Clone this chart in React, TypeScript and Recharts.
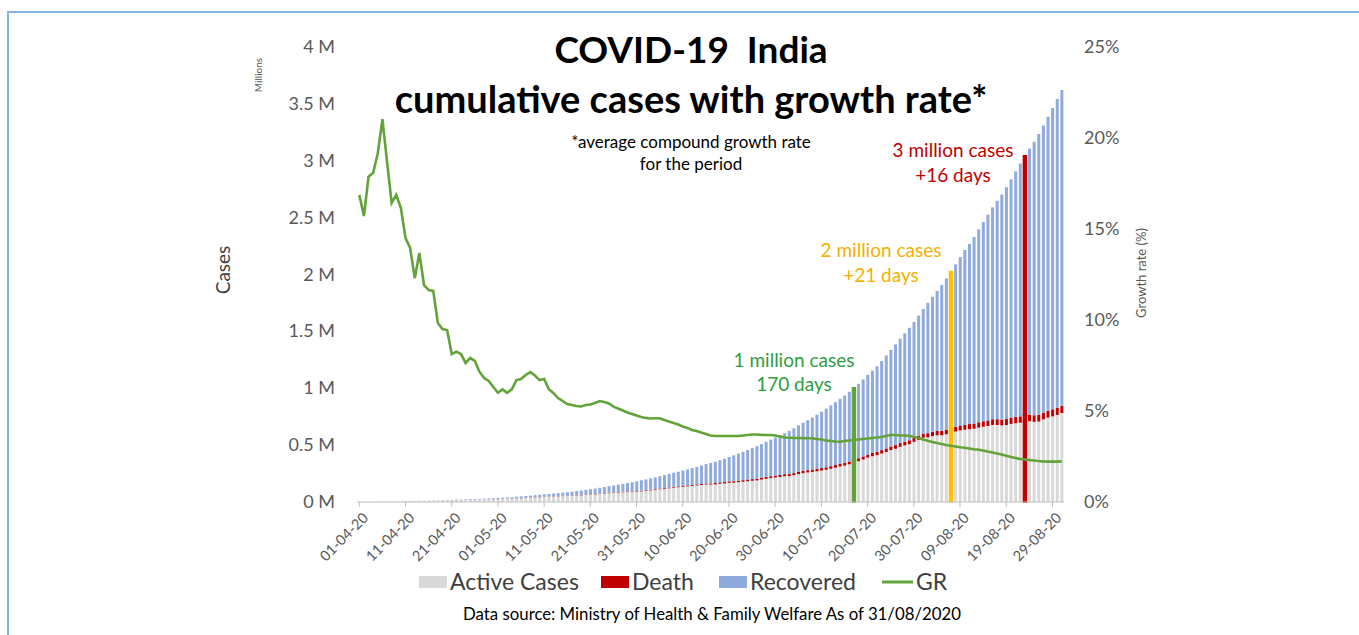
import { ComposedChart, Bar, Line, XAxis, YAxis, Cell } from 'recharts';

// one category per day, 01-04-2020 .. 31-08-2020
const dates = [
  '01-04-20', '02-04-20', '03-04-20', '04-04-20', '05-04-20', '06-04-20', '07-04-20', '08-04-20', '09-04-20', '10-04-20',
  '11-04-20', '12-04-20', '13-04-20', '14-04-20', '15-04-20', '16-04-20', '17-04-20', '18-04-20', '19-04-20', '20-04-20',
  '21-04-20', '22-04-20', '23-04-20', '24-04-20', '25-04-20', '26-04-20', '27-04-20', '28-04-20', '29-04-20', '30-04-20',
  '01-05-20', '02-05-20', '03-05-20', '04-05-20', '05-05-20', '06-05-20', '07-05-20', '08-05-20', '09-05-20', '10-05-20',
  '11-05-20', '12-05-20', '13-05-20', '14-05-20', '15-05-20', '16-05-20', '17-05-20', '18-05-20', '19-05-20', '20-05-20',
  '21-05-20', '22-05-20', '23-05-20', '24-05-20', '25-05-20', '26-05-20', '27-05-20', '28-05-20', '29-05-20', '30-05-20', '31-05-20',
  '01-06-20', '02-06-20', '03-06-20', '04-06-20', '05-06-20', '06-06-20', '07-06-20', '08-06-20', '09-06-20', '10-06-20',
  '11-06-20', '12-06-20', '13-06-20', '14-06-20', '15-06-20', '16-06-20', '17-06-20', '18-06-20', '19-06-20', '20-06-20',
  '21-06-20', '22-06-20', '23-06-20', '24-06-20', '25-06-20', '26-06-20', '27-06-20', '28-06-20', '29-06-20', '30-06-20',
  '01-07-20', '02-07-20', '03-07-20', '04-07-20', '05-07-20', '06-07-20', '07-07-20', '08-07-20', '09-07-20', '10-07-20',
  '11-07-20', '12-07-20', '13-07-20', '14-07-20', '15-07-20', '16-07-20', '17-07-20', '18-07-20', '19-07-20', '20-07-20',
  '21-07-20', '22-07-20', '23-07-20', '24-07-20', '25-07-20', '26-07-20', '27-07-20', '28-07-20', '29-07-20', '30-07-20', '31-07-20',
  '01-08-20', '02-08-20', '03-08-20', '04-08-20', '05-08-20', '06-08-20', '07-08-20', '08-08-20', '09-08-20', '10-08-20',
  '11-08-20', '12-08-20', '13-08-20', '14-08-20', '15-08-20', '16-08-20', '17-08-20', '18-08-20', '19-08-20', '20-08-20',
  '21-08-20', '22-08-20', '23-08-20', '24-08-20', '25-08-20', '26-08-20', '27-08-20', '28-08-20', '29-08-20', '30-08-20', '31-08-20',
];

// thousands of cases
const activeCases = [
  1.4, 1.9, 2.3, 2.7, 3.2, 3.7, 4.3, 4.6, 5.1, 5.7, 6.5, 7.4, 7.9, 8.9, 9.7, 10.5, 11.3, 11.9, 13.0, 14.2,
  14.8, 15.5, 16.4, 17.7, 18.6, 19.9, 20.9, 21.6, 22.6, 23.7,
  25.0, 26.1, 28.0, 29.4, 32.1, 33.5, 35.8, 37.9, 39.9, 41.4, 44.1, 46.0, 47.5, 49.3, 51.4, 53.0, 53.9, 56.4, 58.7, 61.2,
  63.7, 66.3, 69.6, 73.6, 77.1, 80.7, 83.1, 86.1, 90.0, 86.4, 89.9,
  93.3, 97.6, 101.5, 106.7, 112.0, 116.0, 120.4, 125.9, 129.9, 133.7, 137.5, 141.8, 145.7, 149.3, 153.7, 153.2, 155.3, 160.4, 163.2, 168.3,
  169.5, 174.4, 178.0, 183.0, 186.5, 189.5, 197.3, 203.1, 210.1, 215.1,
  220.2, 226.9, 227.4, 235.4, 244.8, 253.3, 259.6, 265.0, 269.8, 276.7, 283.4, 292.3, 301.6, 311.8, 319.9, 331.2, 342.4, 358.6, 373.4, 390.4,
  402.5, 411.4, 426.1, 440.1, 456.1, 467.8, 485.1, 497.1, 508.5, 529.1, 545.4,
  565.0, 567.7, 579.4, 586.3, 586.3, 595.5, 608.1, 619.1, 628.7, 635.0, 639.9, 643.9, 653.7, 661.6, 668.3, 677.4, 677.0, 673.1, 676.5, 686.3,
  692.1, 697.3, 707.6, 710.8, 704.3, 707.3, 725.9, 742.1, 752.4, 765.3, 781.9,
];

const deaths = [
  0.04, 0.05, 0.06, 0.08, 0.1, 0.11, 0.12, 0.15, 0.17, 0.2, 0.24, 0.27, 0.31, 0.34, 0.38, 0.41, 0.44, 0.48, 0.52, 0.56,
  0.59, 0.64, 0.68, 0.72, 0.78, 0.82, 0.87, 0.93, 1.01, 1.07,
  1.15, 1.22, 1.3, 1.37, 1.57, 1.69, 1.78, 1.89, 1.98, 2.11, 2.21, 2.29, 2.42, 2.55, 2.65, 2.75, 2.87, 3.03, 3.16, 3.3,
  3.44, 3.58, 3.72, 3.87, 4.02, 4.17, 4.34, 4.53, 4.71, 4.97, 5.16,
  5.39, 5.6, 5.82, 6.08, 6.35, 6.64, 6.93, 7.2, 7.47, 7.75, 8.1, 8.5, 8.88, 9.2, 9.52, 9.9, 11.9, 12.24, 12.57, 12.95,
  13.25, 13.7, 14.01, 14.48, 14.89, 15.3, 15.69, 16.1, 16.48, 16.89,
  17.4, 17.8, 18.2, 18.7, 19.3, 19.7, 20.2, 20.6, 21.1, 21.6, 22.1, 22.7, 23.2, 23.7, 24.3, 24.9, 25.6, 26.3, 26.8, 27.5,
  28.1, 28.7, 29.9, 30.6, 31.4, 32.1, 32.8, 33.4, 34.2, 35.0, 35.7,
  36.5, 37.4, 38.1, 38.9, 39.8, 40.7, 41.6, 42.5, 43.4, 44.4, 45.3, 46.1, 47.0, 48.0, 49.0, 50.0, 50.9, 51.8, 52.9, 53.9,
  54.8, 55.8, 56.7, 57.5, 58.4, 59.4, 60.5, 61.5, 62.6, 63.5, 64.5,
];

const recovered = [
  0.13, 0.16, 0.17, 0.21, 0.27, 0.33, 0.35, 0.41, 0.47, 0.5, 0.65, 0.76, 1.0, 1.2, 1.3, 1.5, 1.7, 2.0, 2.2, 2.5,
  3.2, 3.9, 4.3, 4.7, 5.1, 5.8, 6.2, 6.9, 7.7, 8.3,
  8.9, 10.0, 10.6, 11.7, 12.7, 14.2, 15.3, 16.5, 17.8, 19.4, 20.9, 22.5, 24.4, 26.2, 27.9, 30.2, 34.1, 36.8, 39.2, 42.3,
  45.3, 48.5, 51.8, 54.4, 57.7, 60.5, 64.4, 67.7, 71.1, 82.4, 87.0,
  91.8, 95.5, 100.3, 104.1, 108.5, 114.1, 119.3, 124.4, 129.2, 135.2, 141.0, 147.2, 154.3, 162.4, 169.8, 180.0, 186.9, 194.3, 204.7, 213.8,
  227.8, 237.2, 248.2, 258.7, 271.7, 285.6, 295.9, 309.7, 321.7, 334.8,
  347.9, 359.9, 379.9, 394.2, 409.1, 424.4, 439.9, 456.8, 476.4, 495.5, 515.4, 534.6, 553.5, 571.5, 592.0, 612.8, 635.8, 653.8, 677.4, 700.1,
  724.6, 753.0, 782.6, 817.2, 849.4, 885.6, 917.6, 952.7, 989.0, 1019.7, 1057.8,
  1094.4, 1145.6, 1186.2, 1230.5, 1282.2, 1328.3, 1377.4, 1427.0, 1480.9, 1535.7, 1583.5, 1639.6, 1695.9, 1751.6, 1808.9, 1862.3, 1919.8, 1977.8, 2037.9, 2096.7,
  2158.9, 2222.6, 2280.6, 2338.0, 2404.6, 2467.8, 2523.8, 2583.9, 2648.9, 2713.9, 2774.8,
];

// average compound growth rate, %
const growthRate = [
  16.87, 15.71, 17.87, 18.09, 19.16, 21.03, 18.7, 16.43, 16.87, 16.15, 14.5, 13.96, 12.3, 13.68, 11.92, 11.65, 11.6, 9.84, 9.5, 9.45,
  8.13, 8.26, 8.13, 7.64, 7.91, 7.75, 7.16, 6.81, 6.65, 6.32,
  6.0, 6.19, 6.0, 6.19, 6.7, 6.76, 6.98, 7.14, 6.95, 6.7, 6.76, 6.2, 5.99, 5.71, 5.55, 5.38, 5.33, 5.27, 5.25, 5.33,
  5.36, 5.44, 5.55, 5.49, 5.41, 5.24, 5.14, 5.03, 4.92, 4.84, 4.75,
  4.67, 4.62, 4.59, 4.6, 4.6, 4.51, 4.42, 4.34, 4.26, 4.15, 4.07, 3.96, 3.9, 3.82, 3.74, 3.65, 3.63, 3.63, 3.63, 3.63,
  3.63, 3.63, 3.65, 3.68, 3.71, 3.71, 3.69, 3.68, 3.68, 3.65,
  3.6, 3.54, 3.53, 3.52, 3.52, 3.51, 3.5, 3.5, 3.46, 3.43, 3.38, 3.35, 3.32, 3.31, 3.35, 3.38, 3.41, 3.43, 3.46, 3.49,
  3.52, 3.54, 3.57, 3.63, 3.68, 3.68, 3.66, 3.65, 3.64, 3.57, 3.52,
  3.43, 3.36, 3.3, 3.24, 3.19, 3.13, 3.09, 3.05, 3.01, 2.98, 2.94, 2.9, 2.87, 2.83, 2.77, 2.72, 2.67, 2.61, 2.54, 2.47,
  2.42, 2.36, 2.34, 2.31, 2.28, 2.25, 2.23, 2.22, 2.22, 2.22, 2.23,
];

const tickDates = [
  '01-04-20', '11-04-20', '21-04-20', '01-05-20', '11-05-20', '21-05-20', '31-05-20', '10-06-20',
  '20-06-20', '30-06-20', '10-07-20', '20-07-20', '30-07-20', '09-08-20', '19-08-20', '29-08-20',
];
const caseTicks = [0, 500, 1000, 1500, 2000, 2500, 3000, 3500, 4000];
const rateTicks = [0, 5, 10, 15, 20, 25];

const milestoneDates = ['17-07-20', '07-08-20', '23-08-20'];
const milestoneColors = ['#62a33a', '#ffc000', '#c00000'];

const data = dates.map((date, i) => ({
  date,
  active: activeCases[i],
  death: deaths[i],
  recovered: recovered[i],
  gr: growthRate[i],
}));

const FONT = 'Lato, "Open Sans", sans-serif';
const GREEN = '#62a33a';

const cellsFor = (base: string) =>
  data.map((d, i) => {
    const m = milestoneDates.indexOf(d.date);
    const c = m >= 0 ? milestoneColors[m] : base;
    return <Cell key={i} fill={c} stroke={m >= 0 ? c : 'none'} strokeWidth={m >= 0 ? 1.5 : 0} />;
  });

const DateTick = (props: any) => {
  const { x, y, payload } = props;
  return (
    <g transform={`translate(${x},${y})`}>
      <text x={0} y={6} dy={8} textAnchor="end" transform="rotate(-45)" fontSize={14.5} fill="#595959" fontFamily={FONT}>
        {payload.value}
      </text>
    </g>
  );
};

// left tick labels drawn by hand so they sit right-aligned at x = 335
const CaseTick = (props: any) => {
  const { y, payload } = props;
  return (
    <text x={335} y={y} dy={6} textAnchor="end" fontSize={18} fill="#595959" fontFamily={FONT}>
      {`${payload.value / 1000} M`}
    </text>
  );
};

const legendItems = [
  { label: 'Active Cases', color: '#d9d9d9', x: 419, type: 'rect' },
  { label: 'Death', color: '#c00000', x: 601, type: 'rect' },
  { label: 'Recovered', color: '#8faadc', x: 719, type: 'rect' },
  { label: 'GR', color: GREEN, x: 882, type: 'line' },
];

const App = () => {
  return (
    <div style={{ position: 'absolute', left: 0, top: 0, width: 1359, height: 635, background: '#fff', overflow: 'hidden' }}>
      <div
        style={{
          position: 'absolute', left: 7, top: 11, width: 1360, height: 640,
          borderTop: '2px solid #84b4e4', borderLeft: '2px solid #84b4e4',
        }}
      />
      <div style={{ position: 'absolute', left: 0, top: 0 }}>
        <ComposedChart width={1359} height={635} data={data} margin={{ top: 47, right: 215, bottom: 73, left: 277 }} barSize={3}>
          <XAxis
            dataKey="date"
            ticks={tickDates}
            interval={0}
            tick={<DateTick />}
            tickSize={5}
            tickLine={{ stroke: '#bfbfbf' }}
            axisLine={{ stroke: '#bfbfbf' }}
            height={60}
          />
          <YAxis
            yAxisId="left"
            width={80}
            domain={[0, 4000]}
            ticks={caseTicks}
            axisLine={false}
            tickLine={false}
            tick={<CaseTick />}
          />
          <YAxis
            yAxisId="right"
            orientation="right"
            width={80}
            domain={[0, 25]}
            ticks={rateTicks}
            tickFormatter={(v: number) => `${v}%`}
            axisLine={false}
            tickLine={false}
            tickMargin={14}
            tick={{ fill: '#595959', fontSize: 18, fontFamily: FONT, textAnchor: 'start' }}
          />
          <Bar yAxisId="left" dataKey="active" stackId="a" fill="#d9d9d9" isAnimationActive={false}>
            {cellsFor('#d9d9d9')}
          </Bar>
          <Bar yAxisId="left" dataKey="death" stackId="a" fill="#c00000" isAnimationActive={false}>
            {cellsFor('#c00000')}
          </Bar>
          <Bar yAxisId="left" dataKey="recovered" stackId="a" fill="#8faadc" isAnimationActive={false}>
            {cellsFor('#8faadc')}
          </Bar>
          <Line yAxisId="right" type="linear" dataKey="gr" stroke={GREEN} strokeWidth={2.6} dot={false} isAnimationActive={false} />
        </ComposedChart>
      </div>
      <svg width={1359} height={635} style={{ position: 'absolute', left: 0, top: 0, pointerEvents: 'none' }} fontFamily={FONT}>
        <text x={691} y={63} textAnchor="middle" fontSize={37} fontWeight={700} fill="#000" style={{ whiteSpace: 'pre' }}>
          COVID-19  India
        </text>
        <text x={691} y={113} textAnchor="middle" fontSize={38} fontWeight={700} fill="#000">
          cumulative cases with growth rate*
        </text>
        <text x={691} y={148} textAnchor="middle" fontSize={17} fill="#000">*average compound growth rate</text>
        <text x={691} y={170} textAnchor="middle" fontSize={17} fill="#000">for the period</text>

        <text x={953} y={157} textAnchor="middle" fontSize={19} fill="#c00000">3 million cases</text>
        <text x={953} y={182} textAnchor="middle" fontSize={19} fill="#c00000">+16 days</text>
        <text x={881} y={257} textAnchor="middle" fontSize={19} fill="#f5b000">2 million cases</text>
        <text x={881} y={282} textAnchor="middle" fontSize={19} fill="#f5b000">+21 days</text>
        <text x={794} y={367} textAnchor="middle" fontSize={19} fill="#2e9e40">1 million cases</text>
        <text x={794} y={391} textAnchor="middle" fontSize={19} fill="#2e9e40">170 days</text>

        <text transform="translate(230,270) rotate(-90)" textAnchor="middle" fontSize={19} fill="#404040">Cases</text>
        <text transform="translate(262,75) rotate(-90)" textAnchor="middle" fontSize={10} fill="#595959">Millions</text>
        <text transform="translate(1146,273) rotate(-90)" textAnchor="middle" fontSize={13} fill="#595959">Growth rate (%)</text>

        {legendItems.map((it) => (
          <g key={it.label}>
            {it.type === 'rect' ? (
              <rect x={it.x} y={576} width={28} height={12} fill={it.color} />
            ) : (
              <line x1={it.x} x2={it.x + 31} y1={582} y2={582} stroke={it.color} strokeWidth={3} />
            )}
            <text x={it.x + (it.type === 'rect' ? 31 : 34)} y={590} fontSize={23} fill="#404040">
              {it.label}
            </text>
          </g>
        ))}

        <text x={712} y={620} textAnchor="middle" fontSize={16.8} fill="#000">
          Data source: Ministry of Health &amp; Family Welfare As of 31/08/2020
        </text>
      </svg>
    </div>
  );
};

export default App;
